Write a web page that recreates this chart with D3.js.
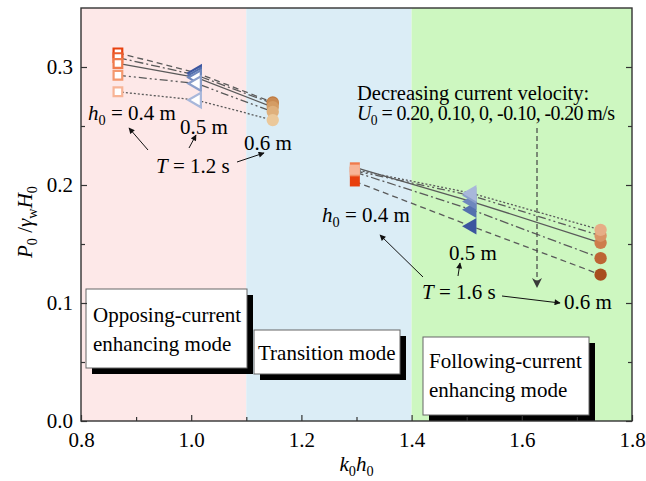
<!DOCTYPE html>
<html>
<head>
<meta charset="utf-8">
<script src="https://cdn.jsdelivr.net/npm/d3@7/dist/d3.min.js"></script>
<style>
  html, body { margin: 0; padding: 0; background: #fff; }
  svg { display: block; }
  text { font-family: "Liberation Serif", "Times New Roman", serif; fill: #000; }
</style>
</head>
<body>
<svg id="chart" width="646" height="481"></svg>
<script>
// Current velocities U0 (m/s), ordered from strongest opposing to strongest following
const currentVelocity = [-0.20, -0.10, 0, 0.10, 0.20];
const lineDash = ["6,4", "9,3,2,3", null, "8,3,2,3,2,3", "2,2"];

// Wave period T = 1.2 s: k0h0 for h0 = 0.4, 0.5, 0.6 m
const khT12 = [0.867, 1.010, 1.148];
const pT12 = [
  [0.312, 0.295, 0.270],
  [0.308, 0.293, 0.269],
  [0.303, 0.291, 0.266],
  [0.293, 0.286, 0.262],
  [0.279, 0.272, 0.255]
];

// Wave period T = 1.6 s
const khT16 = [1.297, 1.509, 1.743];
const pT16 = [
  [0.203, 0.165, 0.124],
  [0.211, 0.179, 0.138],
  [0.215, 0.186, 0.151],
  [0.212, 0.191, 0.157],
  [0.213, 0.193, 0.162]
];

// Marker colours per depth (square, triangle, circle), dark -> light with U0
const squareColors = ["#e8400e", "#ec5c2c", "#f07a4c", "#f4986e", "#f8b496"];
const triangleColors = ["#3c559f", "#5470ae", "#6e87bd", "#8b9fcb", "#a8b7da"];
const circleColorsT12 = ["#bf7a40", "#c98a52", "#d49c64", "#dfb07c", "#ebc89a"];
const circleColorsT16 = ["#a84e1e", "#bd6534", "#cd7d4c", "#d99466", "#e6ad86"];

// Flow regimes along k0h0
const regimes = [
  { from: 0.8, to: 1.1, color: "#fde8e8" },
  { from: 1.1, to: 1.4, color: "#dbedf6" },
  { from: 1.4, to: 1.8, color: "#cdf7c0" }
];

const xMajor = [0.8, 1.0, 1.2, 1.4, 1.6, 1.8];
const xMinor = [0.9, 1.1, 1.3, 1.5, 1.7];
const yMajor = [0.0, 0.1, 0.2, 0.3];
const yMinor = [0.05, 0.15, 0.25];

const svg = d3.select("#chart");
const L = 81, R = 632, T = 8, B = 421;
const x = d3.scaleLinear().domain([0.8, 1.8]).range([L, R]);
const y = d3.scaleLinear().domain([0, 0.35]).range([B, T]);
const FS = 21;

// Background bands
svg.append("g").selectAll("rect").data(regimes).join("rect")
  .attr("x", d => x(d.from)).attr("y", T)
  .attr("width", d => x(d.to) - x(d.from)).attr("height", B - T)
  .attr("fill", d => d.color);

// Rich text helper: parts with italic / subscript flags
function rich(g, px, py, parts, size, anchor) {
  const t = g.append("text").attr("x", px).attr("y", py)
    .attr("font-size", size).attr("text-anchor", anchor || "start");
  let shifted = false;
  parts.forEach(p => {
    const s = t.append("tspan").text(p.t);
    if (p.i) s.attr("font-style", "italic");
    if (p.sub) {
      s.attr("font-size", size * 0.68).attr("dy", shifted ? 0 : size * 0.25);
      shifted = true;
    } else if (shifted) {
      s.attr("dy", -size * 0.25);
      shifted = false;
    }
  });
  return t;
}

// Mode boxes with drop shadow
const boxes = [
  { x: 86, y: 289, w: 161, h: 79, lines: ["Opposing-current", "enhancing mode"], tx: 93, base: [322, 351] },
  { x: 254, y: 330, w: 146, h: 44, lines: ["Transition mode"], tx: 258, base: [360] },
  { x: 423, y: 337, w: 166, h: 78, lines: ["Following-current", "enhancing mode"], tx: 429, base: [368, 397] }
];
const gb = svg.append("g");
boxes.forEach(b => {
  gb.append("rect").attr("x", b.x + 6).attr("y", b.y + 6).attr("width", b.w).attr("height", b.h).attr("fill", "#000");
  gb.append("rect").attr("x", b.x).attr("y", b.y).attr("width", b.w).attr("height", b.h)
    .attr("fill", "#fff").attr("stroke", "#666").attr("stroke-width", 1);
  b.lines.forEach((ln, i) => {
    gb.append("text").attr("x", b.tx).attr("y", b.base[i]).attr("font-size", FS).text(ln);
  });
});

// Series lines
const line = d3.line().x(d => x(d[0])).y(d => y(d[1]));
const gl = svg.append("g").attr("fill", "none");
[[khT12, pT12], [khT16, pT16]].forEach(([kh, ps]) => {
  ps.forEach((vals, i) => {
    gl.append("path")
      .attr("d", line(kh.map((k, j) => [k, vals[j]])))
      .attr("stroke", "#5a5a5a").attr("stroke-width", 1.3)
      .attr("stroke-dasharray", lineDash[i]);
  });
});

// Markers
const shapes = [
  { sym: d3.symbolSquare, size: 100, rot: 0 },
  { sym: d3.symbolTriangle, size: 120, rot: -90 },
  { sym: d3.symbolCircle, size: 120, rot: 0 }
];
function drawMarkers(kh, ps, circleColors, hollow) {
  const palettes = [squareColors, triangleColors, circleColors];
  const g = svg.append("g");
  ps.forEach((vals, i) => {
    vals.forEach((v, j) => {
      const sh = shapes[j];
      const col = palettes[j][i];
      const open = hollow && j < 2;
      g.append("path")
        .attr("d", d3.symbol().type(sh.sym).size(open ? sh.size * 0.75 : sh.size)())
        .attr("transform", `translate(${x(kh[j])},${y(v)}) rotate(${sh.rot})`)
        .attr("fill", open ? "#fff" : col)
        .attr("stroke", open ? col : "none")
        .attr("stroke-width", open ? 2.2 : 0);
    });
  });
}
drawMarkers(khT12, pT12, circleColorsT12, true);
drawMarkers(khT16, pT16, circleColorsT16, false);

// Axes (ticks pointing inward)
const ga = svg.append("g");
ga.append("g").attr("transform", `translate(0,${B})`)
  .call(d3.axisBottom(x).tickValues(xMajor).tickSize(-6).tickPadding(11).tickFormat(d3.format(".1f")));
ga.append("g").attr("transform", `translate(0,${B})`)
  .call(d3.axisBottom(x).tickValues(xMinor).tickSize(-4).tickFormat(""));
ga.append("g").attr("transform", `translate(${L},0)`)
  .call(d3.axisLeft(y).tickValues(yMajor).tickSize(-6).tickPadding(8).tickFormat(d3.format(".1f")));
ga.append("g").attr("transform", `translate(${L},0)`)
  .call(d3.axisLeft(y).tickValues(yMinor).tickSize(-4).tickFormat(""));
ga.append("g").attr("transform", `translate(${R},0)`)
  .call(d3.axisRight(y).tickValues(yMajor).tickSize(-6).tickFormat(""));
ga.append("g").attr("transform", `translate(${R},0)`)
  .call(d3.axisRight(y).tickValues(yMinor).tickSize(-4).tickFormat(""));
ga.selectAll(".domain").remove();
ga.selectAll("text").attr("font-size", FS).attr("fill", "#000")
  .attr("font-family", "Liberation Serif, Times New Roman, serif");
ga.selectAll("line").attr("stroke", "#333").attr("stroke-width", 1.2);

svg.append("rect").attr("x", L).attr("y", T).attr("width", R - L).attr("height", B - T)
  .attr("fill", "none").attr("stroke", "#333").attr("stroke-width", 1.4);

// Axis titles
rich(svg, (L + R) / 2, 471, [{ t: "k", i: true }, { t: "0", sub: true }, { t: "h", i: true }, { t: "0", sub: true }], FS, "middle");
const yt = svg.append("g").attr("transform", "translate(32,222) rotate(-90)");
rich(yt, 0, 0, [{ t: "P", i: true }, { t: "0", sub: true }, { t: " /" }, { t: "γ", i: true }, { t: "w", sub: true },
  { t: "H", i: true }, { t: "0", sub: true }], FS, "middle");

// Annotations
const defs = svg.append("defs");
defs.append("marker").attr("id", "ah").attr("viewBox", "0 0 10 10").attr("refX", 9).attr("refY", 5)
  .attr("markerWidth", 8).attr("markerHeight", 6).attr("markerUnits", "userSpaceOnUse").attr("orient", "auto")
  .append("path").attr("d", "M0,0 L10,5 L0,10 z").attr("fill", "#111");
defs.append("marker").attr("id", "ahBig").attr("viewBox", "0 0 10 10").attr("refX", 10).attr("refY", 5)
  .attr("markerWidth", 18).attr("markerHeight", 10).attr("markerUnits", "userSpaceOnUse").attr("orient", "auto")
  .append("path").attr("d", "M0,0 L10,5 L0,10 L3,5 z").attr("fill", "#3a3a3a");

const gn = svg.append("g");
function arrow(x1, y1, x2, y2) {
  gn.append("line").attr("x1", x1).attr("y1", y1).attr("x2", x2).attr("y2", y2)
    .attr("stroke", "#111").attr("stroke-width", 1).attr("marker-end", "url(#ah)");
}
// T = 1.2 s group
rich(gn, 88, 120, [{ t: "h", i: true }, { t: "0", sub: true }, { t: " = 0.4 m" }], FS);
rich(gn, 180, 134, [{ t: "0.5 m" }], FS);
rich(gn, 244, 150, [{ t: "0.6 m" }], FS);
rich(gn, 156, 173, [{ t: "T", i: true }, { t: " = 1.2 s" }], FS);
arrow(148, 150, 129, 128);
arrow(189, 148, 196, 135);
arrow(237, 162, 264, 153);
// T = 1.6 s group
rich(gn, 322, 222, [{ t: "h", i: true }, { t: "0", sub: true }, { t: " = 0.4 m" }], FS);
rich(gn, 449, 260, [{ t: "0.5 m" }], FS);
rich(gn, 422, 299, [{ t: "T", i: true }, { t: " = 1.6 s" }], FS);
rich(gn, 564, 309, [{ t: "0.6 m" }], FS);
arrow(423, 277, 380, 235);
arrow(458, 276, 460, 263);
arrow(502, 296, 560, 303);
// Current velocity trend
rich(gn, 357, 100, [{ t: "Decreasing current velocity:" }], 20.5);
rich(gn, 357, 120, [{ t: "U", i: true }, { t: "0", sub: true },
  { t: " = " + currentVelocity.slice().reverse().map(v => v === 0 ? "0" : v.toFixed(2)).join(", ") + " m/s" }], 20)
  .attr("textLength", 258).attr("lengthAdjust", "spacing");
gn.append("line").attr("x1", 537).attr("y1", 128).attr("x2", 537).attr("y2", 288)
  .attr("stroke", "#444").attr("stroke-width", 1.2).attr("stroke-dasharray", "5,3")
  .attr("marker-end", "url(#ahBig)");
</script>
</body>
</html>
